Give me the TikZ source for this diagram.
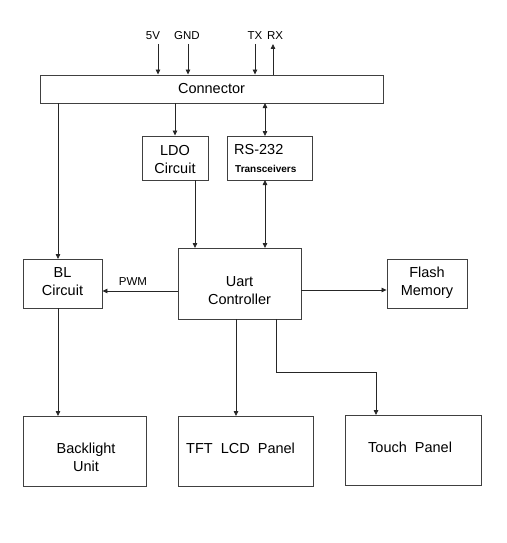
\documentclass[tikz,border=0pt]{standalone}
\usepackage{fontspec}
\setmainfont{Liberation Sans}
\usetikzlibrary{arrows.meta}
\begin{document}
\begin{tikzpicture}[x=1pt,y=-1pt,
  blk/.style={draw=black!75,line width=0.9pt,inner sep=0pt},
  wire/.style={draw=black!85,line width=0.8pt},
  arr/.style={wire,-{Triangle[width=4.5pt,length=5pt]}},
  darr/.style={wire,{Triangle[width=4.5pt,length=5pt]}-{Triangle[width=4.5pt,length=5pt]}},
  txt/.style={font=\fontsize{14.5}{18}\selectfont,align=center,inner sep=0pt},
  small/.style={font=\fontsize{11.5}{13}\selectfont,inner sep=0pt}]
\useasboundingbox (0,0) rectangle (506,543);
% boxes
\node[blk,minimum width=343pt,minimum height=28pt] (con) at (211.5,89) {};
\node[blk,minimum width=66pt,minimum height=44pt] (ldo) at (175,158) {};
\node[blk,minimum width=85pt,minimum height=44pt] (rs) at (269.5,158) {};
\node[blk,minimum width=123pt,minimum height=71pt] (uart) at (239.5,283.5) {};
\node[blk,minimum width=79pt,minimum height=49pt] (bl) at (62.5,283.5) {};
\node[blk,minimum width=80pt,minimum height=49pt] (fl) at (427,283.5) {};
\node[blk,minimum width=123pt,minimum height=70pt] (bu) at (84.5,451) {};
\node[blk,minimum width=135pt,minimum height=70pt] (tft) at (245.5,451) {};
\node[blk,minimum width=136pt,minimum height=70pt] (tp) at (413,450) {};
% texts
\node[txt] (tcon) at (211.5,89) {Connector};
\node[txt] (tldo) at (175,159.5) {LDO\\Circuit};
\node[txt,anchor=west] (trs1) at (234,150) {RS-232};
\node[font=\fontsize{10}{11}\selectfont\bfseries,inner sep=0pt,anchor=west] (trs2) at (235,169) {Transceivers};
\node[txt] (tuart) at (239.5,290.5) {Uart\\Controller};
\node[txt] (tbl) at (62.5,282) {BL\\Circuit};
\node[txt] (tfl) at (427,283) {Flash\\Memory};
\node[txt] (tbu) at (86,457) {Backlight\\Unit};
\node[txt,anchor=west] (ttft) at (186,448) {TFT\ \ LCD\ \ Panel};
\node[txt,anchor=west] (ttp) at (368,447) {Touch\ \ Panel};
\node[small] (pwm) at (133,282) {PWM};
\node[small] (v5) at (153,36) {5V};
\node[small] (gnd) at (187,36) {GND};
\node[small] (tx) at (255,36) {TX};
\node[small] (rx) at (275,36) {RX};
% top signals
\coordinate (v5s) at (158,44);
\coordinate (gnds) at (188,44);
\coordinate (txs) at (255,44);
\coordinate (rxe) at (273,44);
\draw[arr] (v5s) -- (v5s |- con.north);
\draw[arr] (gnds) -- (gnds |- con.north);
\draw[arr] (txs) -- (txs |- con.north);
\draw[arr] (rxe |- con.north) -- (rxe);
% connector outputs
\draw[arr] (58,103) -- (58,259);
\draw[arr] (ldo.north |- con.south) -- (ldo.north);
\draw[darr] (265,103) -- (265,136);
\draw[arr] (195,180) -- (195,248);
\draw[darr] (265,180) -- (265,248);
% uart outputs
\draw[arr] (uart.west |- 0,291) -- (bl.east |- 0,291);
\draw[arr] (uart.east |- 0,290) -- (fl.west |- 0,290);
\draw[arr] (58,308) -- (58,416);
\draw[arr] (236,319) -- (236,416);
\draw[arr] (276,319) -- (276,372) -- (376,372) -- (376,415);
\end{tikzpicture}
\end{document}
